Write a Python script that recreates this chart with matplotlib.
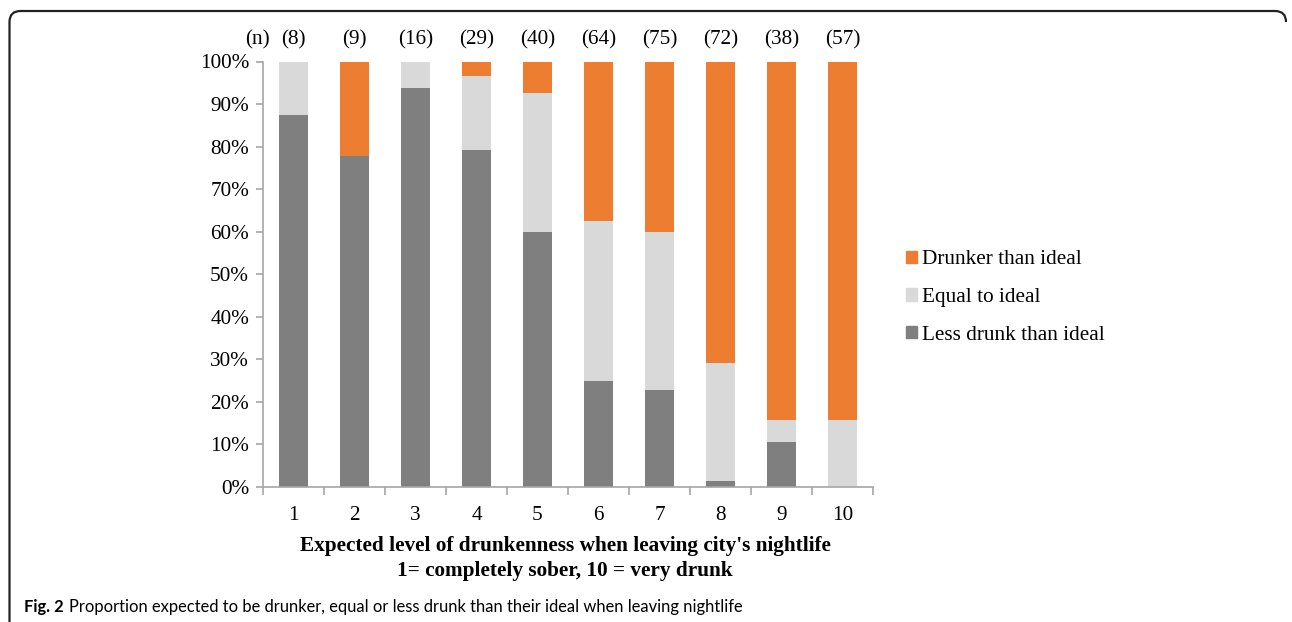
import matplotlib
matplotlib.use("Agg")
import matplotlib.pyplot as plt
from matplotlib.patches import Patch
from matplotlib.path import Path
from matplotlib.patches import PathPatch
import matplotlib.transforms as mtransforms

categories = ["1", "2", "3", "4", "5", "6", "7", "8", "9", "10"]
n_labels = ["(8)", "(9)", "(16)", "(29)", "(40)", "(64)", "(75)", "(72)", "(38)", "(57)"]
less_drunk = [87.5, 77.8, 93.75, 79.3, 60.0, 25.0, 22.7, 1.4, 10.5, 0.0]
equal_ideal = [12.5, 0.0, 6.25, 17.2, 32.5, 37.5, 37.3, 27.8, 5.3, 15.8]
drunker = [0.0, 22.2, 0.0, 3.5, 7.5, 37.5, 40.0, 70.8, 84.2, 84.2]

C_LESS = "#7F7F7F"
C_EQUAL = "#D9D9D9"
C_DRUNK = "#ED7D31"
SPINE = "#A6A6A6"
SERIF = ["Liberation Serif", "DejaVu Serif"]
FS = 15.3
CAP_FONT = ["Lato", "DejaVu Sans"]
CAP_FS = 11.9

W, H = 1292, 622
fig = plt.figure(figsize=(W / 100, H / 100), dpi=100)
ax = fig.add_axes([263 / W, 1 - 487 / H, (873 - 263) / W, (487 - 61.5) / H])

x = list(range(len(categories)))
bw = 0.48
ax.bar(x, less_drunk, bw, color=C_LESS, label="Less drunk than ideal", zorder=2)
b2 = [a for a in less_drunk]
ax.bar(x, equal_ideal, bw, bottom=b2, color=C_EQUAL, label="Equal to ideal", zorder=2)
b3 = [a + b for a, b in zip(less_drunk, equal_ideal)]
ax.bar(x, drunker, bw, bottom=b3, color=C_DRUNK, label="Drunker than ideal", zorder=2)

ax.set_xlim(-0.5, len(categories) - 0.5)
ax.set_ylim(0, 100)
ax.set_yticks(range(0, 101, 10))
ax.set_yticklabels([f"{v}%" for v in range(0, 101, 10)], fontfamily=SERIF, fontsize=FS)
ax.set_xticks(x)
ax.set_xticklabels(categories, fontfamily=SERIF, fontsize=FS)
ax.tick_params(axis="x", which="major", length=0, pad=14)
ax.set_xticks([i - 0.5 for i in range(len(categories) + 1)], minor=True)
ax.tick_params(axis="x", which="minor", length=6, color=SPINE, width=1.2)
ax.tick_params(axis="y", length=5, color=SPINE, width=1.2, pad=5)
for s in ["top", "right"]:
    ax.spines[s].set_visible(False)
for s in ["left", "bottom"]:
    ax.spines[s].set_color(SPINE)
    ax.spines[s].set_linewidth(1.2)

# (n) labels
trans = mtransforms.blended_transform_factory(ax.transData, fig.transFigure)
ypos = 1 - 39.5 / H
for i, t in enumerate(n_labels):
    ax.text(i, ypos, t, transform=trans, ha="center", va="center", fontfamily=SERIF, fontsize=FS)
fig.text(257 / W, ypos, "(n)", ha="center", va="center", fontfamily=SERIF, fontsize=FS)

# x label
fig.text(565 / W, 1 - 546.5 / H, "Expected level of drunkenness when leaving city's nightlife",
         ha="center", va="center", fontfamily=SERIF, fontsize=FS, fontweight="bold")
fig.text(565 / W, 1 - 571 / H, "1= completely sober, 10 = very drunk",
         ha="center", va="center", fontfamily=SERIF, fontsize=FS, fontweight="bold")

# legend
handles = [Patch(color=C_DRUNK, label="Drunker than ideal"),
           Patch(color=C_EQUAL, label="Equal to ideal"),
           Patch(color=C_LESS, label="Less drunk than ideal")]
leg = fig.legend(handles=handles, loc="center left", bbox_to_anchor=(906 / W, 1 - 297.5 / H),
                 frameon=False, prop={"family": SERIF, "size": FS},
                 handlelength=0.5, handleheight=0.5, handletextpad=0.25, labelspacing=0.88,
                 borderaxespad=0, borderpad=0)

# caption
t1 = fig.text(24 / W, 1 - 607 / H, "Fig. 2", ha="left", va="center",
              fontfamily=CAP_FONT, fontsize=CAP_FS, fontweight="bold")
fig.canvas.draw()
bb = t1.get_window_extent()
fig.text((bb.x1 + 5) / W, 1 - 607 / H,
         "Proportion expected to be drunker, equal or less drunk than their ideal when leaving nightlife",
         ha="left", va="center", fontfamily=CAP_FONT, fontsize=CAP_FS)

# border (left and top with rounded corners)
r = 11
xl, xr, yt = 9.5, 1286, 11
pts = [(xl, H + 2), (xl, yt + r), (xl, yt), (xl + r, yt), (xr - r, yt), (xr, yt), (xr, yt + r)]
codes = [Path.MOVETO, Path.LINETO, Path.CURVE3, Path.CURVE3, Path.LINETO, Path.CURVE3, Path.CURVE3]
pts = [(px / W, 1 - py / H) for px, py in pts]
fig.patches.append(PathPatch(Path(pts, codes), transform=fig.transFigure, fill=False,
                             edgecolor="#222222", linewidth=1.6))

fig.savefig("out.png", dpi=100)
